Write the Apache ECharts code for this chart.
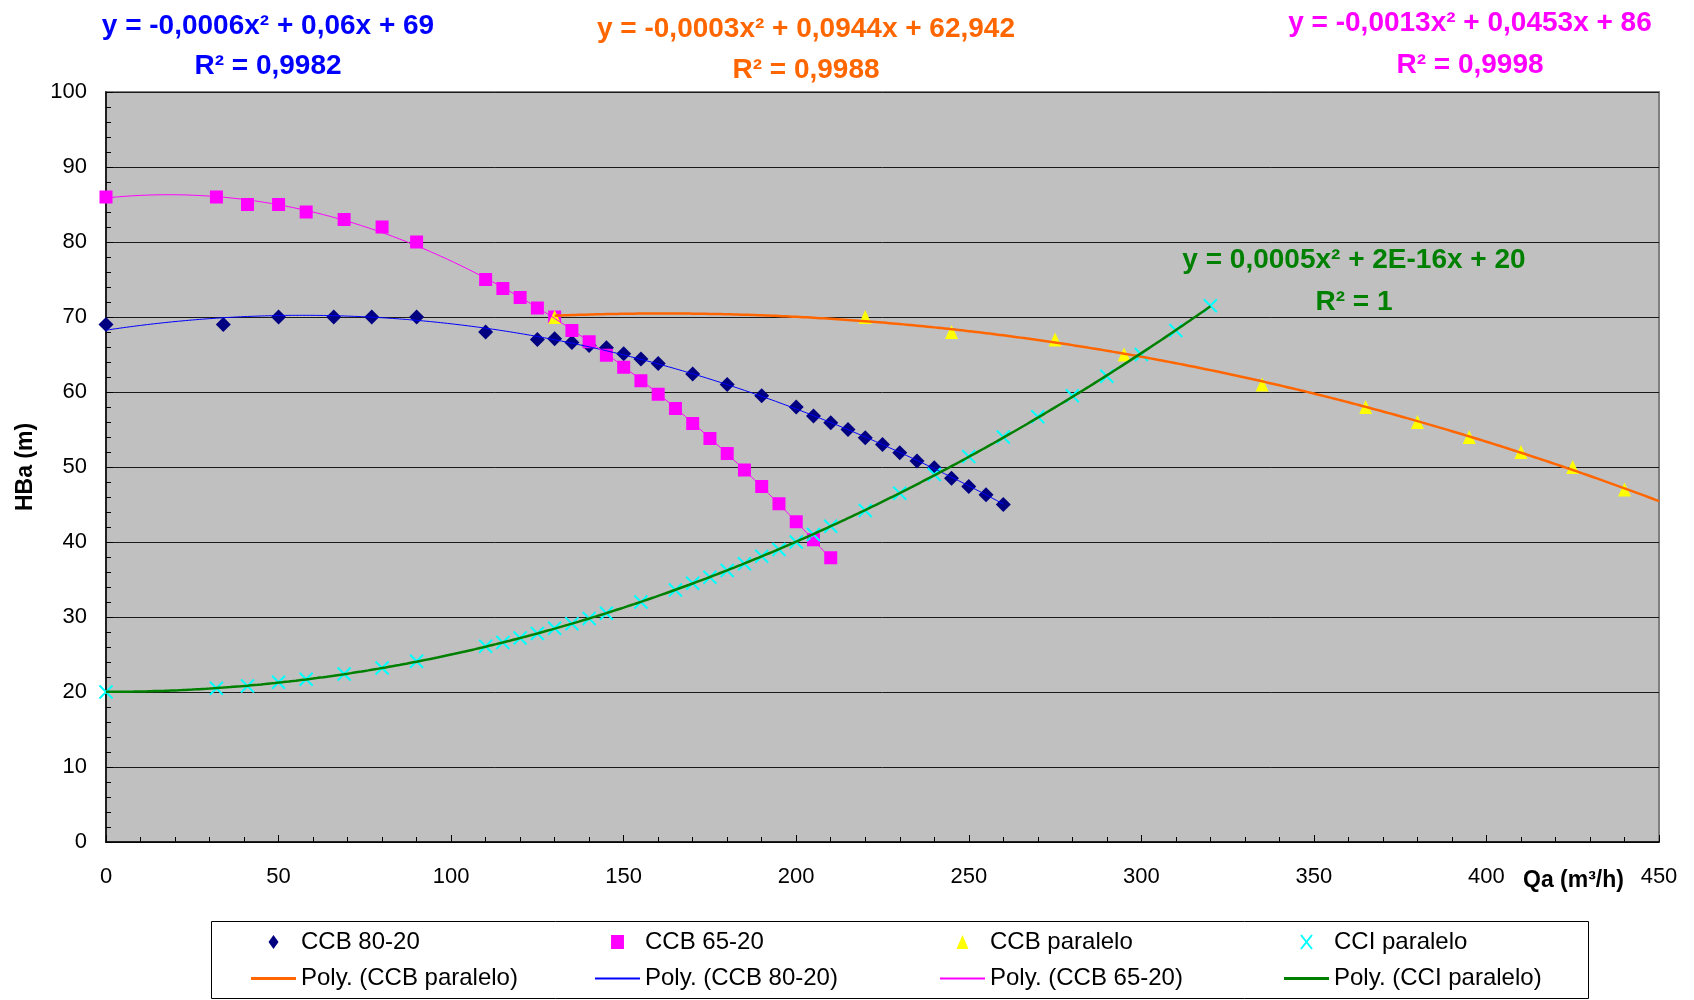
<!DOCTYPE html>
<html><head><meta charset="utf-8">
<script src="https://cdn.jsdelivr.net/npm/echarts@6/dist/echarts.min.js"></script>
<style>html,body{margin:0;padding:0;background:#fff}#c{width:1694px;height:1000px}</style>
</head><body><div id="c"></div>
<script>
// ---- data ----
const xTicks = [0, 50, 100, 150, 200, 250, 300, 350, 400, 450];
const yTicks = [0, 10, 20, 30, 40, 50, 60, 70, 80, 90, 100];

const q8020 = [0,34,50,66,77,90,110,125,130,135,140,145,150,155,160,170,180,190,200,205,210,215,220,225,230,235,240,245,250,255,260];
const h8020 = [69,69,70,70,70,70,68,67,67.1,66.6,66.2,65.9,65.1,64.4,63.8,62.4,61,59.5,58,56.8,55.9,55,53.9,53,51.9,50.8,49.9,48.5,47.4,46.3,45];

const q6520 = [0,32,41,50,58,69,80,90,110,115,120,125,130,135,140,145,150,155,160,165,170,175,180,185,190,195,200,205,210];
const h6520 = [86,86,85,85,84,83,82,80,75,73.8,72.6,71.2,70,68.2,66.7,64.9,63.3,61.5,59.7,57.8,55.8,53.8,51.8,49.6,47.4,45.1,42.7,40.3,37.9];

const qPar = [130,220,245,275,295,335,365,380,395,410,425,440];
const hPar = [70,70,68,67,65,61,58,56,54,52,50,47];

const qCCI = [0,32,41,50,58,69,80,90,110,115,120,125,130,135,140,145,155,165,170,175,180,185,190,195,200,205,210,220,230,240,250,260,270,280,290,300,310,320];
const hCCI = [20,20.5,20.8,21.3,21.7,22.4,23.2,24.1,26.1,26.6,27.2,27.8,28.5,29.1,29.8,30.5,32.0,33.6,34.5,35.3,36.2,37.1,38.1,39.0,40.0,41.0,42.1,44.2,46.5,49.0,51.4,54.0,56.7,59.5,62.1,65.0,68.2,71.5];

const eqLabels = {
  b1: 'y = -0,0006x² + 0,06x + 69', b2: 'R² = 0,9982',
  o1: 'y = -0,0003x² + 0,0944x + 62,942', o2: 'R² = 0,9988',
  m1: 'y = -0,0013x² + 0,0453x + 86', m2: 'R² = 0,9998',
  g1: 'y = 0,0005x² + 2E-16x + 20', g2: 'R² = 1'
};
const parForecast = 10; // trendline forward forecast (units of Qa)

// ---- quadratic least-squares trendline (as the spreadsheet does) ----
function fit2(xs, ys) {
  const s = [0,0,0,0,0], t = [0,0,0];
  for (let i = 0; i < xs.length; i++) {
    let p = 1;
    for (let k = 0; k < 5; k++) { s[k] += p; if (k < 3) t[k] += p * ys[i]; p *= xs[i]; }
  }
  const M = [[s[0],s[1],s[2],t[0]],[s[1],s[2],s[3],t[1]],[s[2],s[3],s[4],t[2]]];
  for (let c = 0; c < 3; c++) {
    let piv = c;
    for (let r = c+1; r < 3; r++) if (Math.abs(M[r][c]) > Math.abs(M[piv][c])) piv = r;
    [M[c], M[piv]] = [M[piv], M[c]];
    for (let r = 0; r < 3; r++) if (r !== c) {
      const f = M[r][c] / M[c][c];
      for (let k = c; k < 4; k++) M[r][k] -= f * M[c][k];
    }
  }
  return [M[0][3]/M[0][0], M[1][3]/M[1][1], M[2][3]/M[2][2]];
}
function curve(xs, ys, extra) {
  const c = fit2(xs, ys);
  const x0 = Math.min(...xs), x1 = Math.max(...xs) + (extra || 0);
  const out = [];
  for (let x = x0; x <= x1 + 1e-9; x += 1) out.push([x, c[0] + c[1]*x + c[2]*x*x]);
  return out;
}
const pairs = (xs, ys) => xs.map((x, i) => [x, ys[i]]);

const FONT = '"Liberation Sans", Arial, sans-serif';
const lineIcon3 = 'path://M0,0L45,0L45,3L0,3Z';
const lineIcon2 = 'path://M0,0L45,0L45,2L0,2Z';
const legendBase = {
  orient: 'vertical', top: 930, height: 64, padding: 0, itemWidth: 45, itemHeight: 14, itemGap: 12.6,
  selectedMode: false, itemStyle: { borderWidth: 0 },
  textStyle: { fontFamily: FONT, fontSize: 24, color: '#000', lineHeight: 24 }
};

const chart = echarts.init(document.getElementById('c'), null, { renderer: 'canvas' });
const eqText = (x, y, text, color) => ({
  type: 'text', x: x, y: y, z: 100,
  style: { text: text, fill: color, font: 'bold 28px ' + FONT, textAlign: 'center', textVerticalAlign: 'middle' }
});

chart.setOption({
  animation: false,
  backgroundColor: '#fff',
  grid: { left: 106, right: 35, top: 92, bottom: 158, show: true, backgroundColor: '#C0C0C0', borderColor: '#808080', borderWidth: 2 },
  xAxis: {
    type: 'value', min: xTicks[0], max: xTicks[xTicks.length-1], interval: xTicks[1]-xTicks[0],
    axisLine: { show: true, onZero: false, lineStyle: { color: '#000', width: 1.5 } },
    axisTick: { show: true, inside: true, length: 7, lineStyle: { color: '#000' } },
    minorTick: { show: true, splitNumber: 5, length: 5, lineStyle: { color: '#000' } },
    splitLine: { show: false },
    axisLabel: { fontFamily: FONT, fontSize: 22, color: '#000', margin: 24 }
  },
  yAxis: {
    type: 'value', min: yTicks[0], max: yTicks[yTicks.length-1], interval: yTicks[1]-yTicks[0],
    name: 'HBa (m)', nameLocation: 'middle', nameGap: 69,
    nameTextStyle: { fontFamily: FONT, fontSize: 23, fontWeight: 'bold', color: '#000' },
    axisLine: { show: true, onZero: false, lineStyle: { color: '#000', width: 1.5 } },
    axisTick: { show: true, inside: true, length: 7, lineStyle: { color: '#000' } },
    minorTick: { show: true, splitNumber: 5, length: 5, lineStyle: { color: '#000' } },
    splitLine: { show: true, lineStyle: { color: '#1a1a1a', width: 1 } },
    axisLabel: { fontFamily: FONT, fontSize: 22, color: '#000', margin: 19 }
  },
  legend: [
    Object.assign({}, legendBase, { left: 251, data: [
      { name: 'CCB 80-20', icon: 'path://M5,0L10,7L5,14L0,7Z' },
      { name: 'Poly. (CCB paralelo)', icon: lineIcon3 } ] }),
    Object.assign({}, legendBase, { left: 595, data: [
      { name: 'CCB 65-20', icon: 'path://M0,0L12,0L12,13L0,13Z' },
      { name: 'Poly. (CCB 80-20)', icon: lineIcon2 } ] }),
    Object.assign({}, legendBase, { left: 940, data: [
      { name: 'CCB paralelo', icon: 'path://M6,0L12,14L0,14Z' },
      { name: 'Poly. (CCB 65-20)', icon: lineIcon2 } ] }),
    Object.assign({}, legendBase, { left: 1284, data: [
      { name: 'CCI paralelo', icon: 'path://M0,0L11,14M11,0L0,14', itemStyle: { color: 'rgba(0,0,0,0)', borderColor: '#00FFFF', borderWidth: 2 } },
      { name: 'Poly. (CCI paralelo)', icon: lineIcon3 } ] })
  ],
  graphic: [
    { type: 'rect', shape: { x: 211.5, y: 921.5, width: 1377, height: 77 }, style: { fill: '#fff', stroke: '#000', lineWidth: 1 }, z: -1 },
    eqText(268, 26, eqLabels.b1, '#0000FF'),
    eqText(268, 66, eqLabels.b2, '#0000FF'),
    eqText(806, 29, eqLabels.o1, '#FF6600'),
    eqText(806, 70, eqLabels.o2, '#FF6600'),
    eqText(1470, 23, eqLabels.m1, '#FF00FF'),
    eqText(1470, 65, eqLabels.m2, '#FF00FF'),
    eqText(1354, 260, eqLabels.g1, '#008000'),
    eqText(1354, 302, eqLabels.g2, '#008000'),
    { type: 'text', x: 1523, y: 881, z: 100, style: { text: 'Qa (m³/h)', fill: '#000', font: 'bold 23px ' + FONT, textAlign: 'left', textVerticalAlign: 'middle' } }
  ],
  series: [
    { name: 'CCB 80-20', type: 'scatter', data: pairs(q8020, h8020), symbol: 'diamond', symbolSize: [15, 15], itemStyle: { color: '#000080', opacity: 1 } },
    { name: 'CCB 65-20', type: 'scatter', data: pairs(q6520, h6520), symbol: 'rect', symbolSize: [13, 13], itemStyle: { color: '#FF00FF', opacity: 1 } },
    { name: 'CCB paralelo', type: 'scatter', data: pairs(qPar, hPar), symbol: 'triangle', symbolSize: [13, 14], itemStyle: { color: '#FFFF00', opacity: 1 } },
    { name: 'CCI paralelo', type: 'scatter', data: pairs(qCCI, hCCI), symbol: 'path://M0,0L10,10M10,0L0,10', symbolSize: [13, 13], itemStyle: { color: 'rgba(0,0,0,0)', borderColor: '#00FFFF', borderWidth: 2, opacity: 1 } },
    { name: 'Poly. (CCB paralelo)', type: 'line', data: curve(qPar, hPar, parForecast), showSymbol: false, color: '#FF6600', lineStyle: { color: '#FF6600', width: 2.5 } },
    { name: 'Poly. (CCB 80-20)', type: 'line', data: curve(q8020, h8020), showSymbol: false, color: '#0000FF', lineStyle: { color: '#0000FF', width: 1 } },
    { name: 'Poly. (CCB 65-20)', type: 'line', data: curve(q6520, h6520), showSymbol: false, color: '#FF00FF', lineStyle: { color: '#FF00FF', width: 1 } },
    { name: 'Poly. (CCI paralelo)', type: 'line', data: curve(qCCI, hCCI), showSymbol: false, color: '#008000', lineStyle: { color: '#008000', width: 2.5 } }
  ]
});
</script></body></html>
